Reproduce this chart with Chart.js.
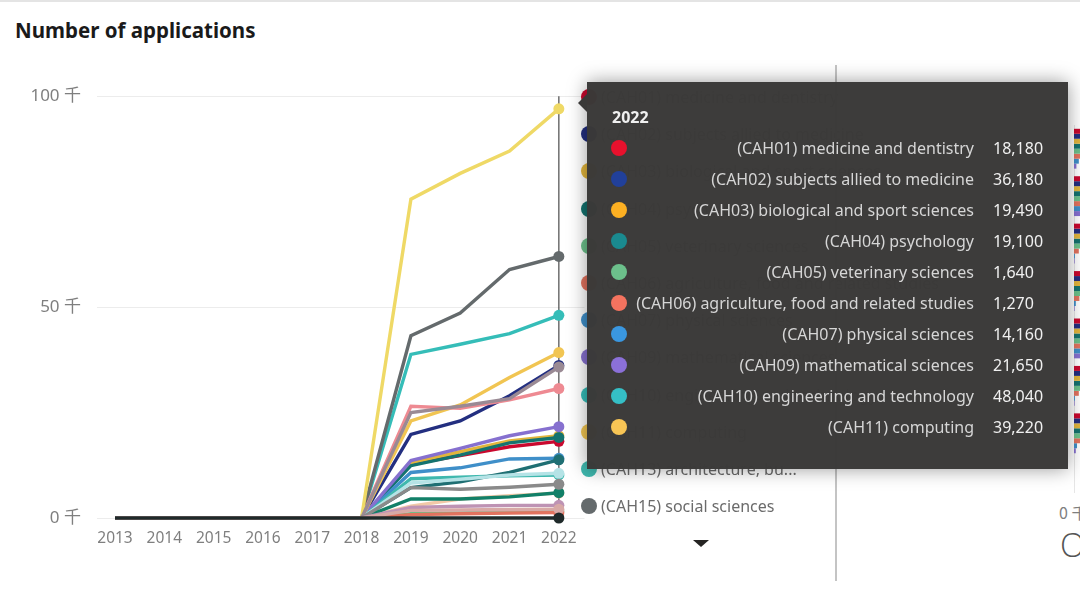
<!DOCTYPE html>
<html>
<head>
<meta charset="utf-8">
<title>Number of applications</title>
<script src="https://cdn.jsdelivr.net/npm/chart.js@4"></script>
<style>
    html, body { margin: 0; padding: 0; background: #fff; overflow: hidden; }
    body { width: 1080px; height: 593px; position: relative; font-family: "Noto Sans", sans-serif; }
    #topRule { position: absolute; left: 0; top: 0; width: 1080px; height: 2px; background: #e4e4e4; }
    #title { position: absolute; left: 15px; top: 16px; font-size: 20.5px; font-weight: 700; color: #1a1a1a; white-space: nowrap; }
    #lineWrap { position: absolute; left: 0; top: 70px; width: 590px; height: 490px; }
    #legend { position: absolute; left: 581px; top: 85px; width: 225px; }
    .legendRow { height: 37.2px; line-height: 25px; white-space: nowrap; color: #6b6b6b; font-size: 16px; }
    .legendRow i { display: inline-block; width: 16px; height: 16px; border-radius: 50%; margin-right: 4px; vertical-align: -2px; }
    #legendArrow { position: absolute; left: 693px; top: 540px; width: 0; height: 0; border-left: 8px solid transparent; border-right: 8px solid transparent; border-top: 7px solid #252423; }
    #divider { position: absolute; left: 835px; top: 65px; width: 2px; height: 516px; background: #c4c4c4; }
    #barWrap { position: absolute; left: 1074px; top: 125px; width: 6px; height: 368px; box-shadow: inset 1px 0 0 #e6e6e6; }
    #barInner { position: relative; width: 6px; height: 332px; }
    #rightTick { position: absolute; left: 1059px; top: 500px; font-size: 16px; color: #7f7f7f; white-space: nowrap; font-family: "Noto Sans CJK SC", "Noto Sans", sans-serif; }
    #rightGlyph { position: absolute; left: 1060px; top: 524px; font-size: 33px; line-height: 42px; font-weight: 300; color: #555; font-family: "Open Sans", sans-serif; }
    #tip { position: absolute; left: 587px; top: 82px; width: 481px; height: 387px; background: rgba(58, 57, 56, 0.985);
           box-shadow: 0 0 18px rgba(0, 0, 0, 0.4); color: #d6d6d6; font-size: 16px; }
    #tip::before { content: ""; position: absolute; left: -9px; top: 12px; border-top: 9px solid transparent; border-bottom: 9px solid transparent; border-right: 9px solid #3a3938; }
    #tipTitle { position: absolute; left: 25px; top: 24px; font-weight: 700; color: #f0f0f0; }
    .tipRow { position: absolute; left: 0; width: 481px; height: 24px; line-height: 24px; }
    .tipRow i { position: absolute; left: 24px; top: 4px; width: 16px; height: 16px; border-radius: 50%; }
    .tipRow span { position: absolute; right: 94px; white-space: nowrap; }
    .tipRow b { position: absolute; left: 406px; font-weight: 400; color: #f0f0f0; }
</style>
</head>
<body>
<div id="topRule"></div>
<div id="title">Number of applications</div>
<div id="lineWrap"><canvas id="lineChart"></canvas></div>
<div id="legend"></div>
<div id="legendArrow"></div>
<div id="divider"></div>
<div id="barWrap"><div id="barInner"><canvas id="barChart"></canvas></div></div>
<div id="rightTick">0 千</div>
<div id="rightGlyph">O</div>
<div id="tip"></div>

<script>
"use strict";

/* global Chart */

// Data
const years = [2013, 2014, 2015, 2016, 2017, 2018, 2019, 2020, 2021, 2022];
const yTicks = [0, 50000, 100000];

const cah01 = [0, 0, 0, 0, 0, 0, 12800, 14800, 16900, 18180];
const cah02 = [0, 0, 0, 0, 0, 0, 19800, 23000, 29000, 36180];
const cah03 = [0, 0, 0, 0, 0, 0, 13100, 15700, 18300, 19490];
const cah04 = [0, 0, 0, 0, 0, 0, 12400, 14900, 17800, 19100];
const cah05 = [0, 0, 0, 0, 0, 0, 1000, 1200, 1500, 1640];
const cah06 = [0, 0, 0, 0, 0, 0, 800, 1000, 1200, 1270];
const cah07 = [0, 0, 0, 0, 0, 0, 10800, 11900, 14000, 14160];
const cah09 = [0, 0, 0, 0, 0, 0, 13600, 16500, 19500, 21650];
const cah10 = [0, 0, 0, 0, 0, 0, 38800, 41200, 43700, 48040];
const cah11 = [0, 0, 0, 0, 0, 0, 23000, 26800, 33300, 39220];
const cah13 = [0, 0, 0, 0, 0, 0, 9300, 9700, 10000, 10200];
const cah15 = [0, 0, 0, 0, 0, 0, 43200, 48600, 58900, 62000];
const cah16 = [0, 0, 0, 0, 0, 0, 26500, 26000, 28000, 30700];
const cah17 = [0, 0, 0, 0, 0, 0, 75600, 81700, 87000, 97000];
const cah19 = [0, 0, 0, 0, 0, 0, 7200, 8600, 10800, 13800];
const cah20 = [0, 0, 0, 0, 0, 0, 8300, 9200, 10200, 10600];
const cah22 = [0, 0, 0, 0, 0, 0, 25000, 26500, 28300, 35800];
const cah23 = [0, 0, 0, 0, 0, 0, 2800, 4500, 5300, 5900];
const cah24 = [0, 0, 0, 0, 0, 0, 4500, 4500, 5000, 6000];
const cah25 = [0, 0, 0, 0, 0, 0, 7200, 6800, 7300, 8000];
const cah26 = [0, 0, 0, 0, 0, 0, 2500, 2800, 3000, 3000];
const cah28 = [0, 0, 0, 0, 0, 0, 1800, 1900, 2000, 2100];
const cah99 = [0, 0, 0, 0, 0, 0, 0, 0, 0, 0];

const seriesValues = [cah01, cah02, cah03, cah04, cah05, cah06, cah07, cah09, cah10, cah11, cah13, cah15,
    cah16, cah17, cah19, cah20, cah22, cah23, cah24, cah25, cah26, cah28, cah99];
const seriesNames = [
    "(CAH01) medicine and dentistry",
    "(CAH02) subjects allied to medicine",
    "(CAH03) biological and sport sciences",
    "(CAH04) psychology",
    "(CAH05) veterinary sciences",
    "(CAH06) agriculture, food and related studies",
    "(CAH07) physical sciences",
    "(CAH09) mathematical sciences",
    "(CAH10) engineering and technology",
    "(CAH11) computing",
    "(CAH13) architecture, bu...",
    "(CAH15) social sciences",
    "CAH16", "CAH17", "CAH19", "CAH20", "CAH22", "CAH23", "CAH24", "CAH25", "CAH26", "CAH28", "CAH99"
];
const seriesColours = ["#c9082e", "#232f80", "#e2b53c", "#14736f", "#6cc08b", "#e2735f", "#3f8fc9", "#8670cf",
    "#35bdb8", "#f1c552", "#3fb8ae", "#646a6c", "#ee8a92", "#efd966", "#1f6f73", "#b5e3e6", "#9a8a94",
    "#f2c9a8", "#128068", "#8a8a8a", "#be93b4", "#d8a9a6", "#1f2a2a"];
const tipColours = ["#e8112d", "#21409a", "#fdb022", "#1a8a8f", "#6cc08b", "#f4735f", "#3a97e0", "#8b70d8", "#35bfc6", "#f8c555"];

const LEGEND_COUNT = 12;
const TIP_COUNT = 10;

// Clipped bars at the right edge of the picture
const barRows = ["a", "b", "c", "d", "e", "f", "g"];
const barRed = [10, 10, 10, 10, 10, 10, 10];
const barNavy = [10, 10, 10, 10, 10, 10, 10];
const barOrange = [10, 10, 10, 10, 10, 10, 10];
const barTeal = [10, 10, 10, 10, 10, 10, 10];
const barGreen = [10, 10, 10, 10, 10, 10, 10];
const barSalmon = [10, 10, 8, 9, 10, 8, 10];
const barBlue = [8, 10, 1.5, 3, 10, 1.5, 5];
const barPurple = [4, 10, 1, 1, 10, 1, 3];

// Vertical hover line through the 2022 points
const hoverLine = {
    id: "hoverLine",
    beforeDatasetsDraw(chart) {
        const { ctx, scales: { x, y } } = chart;
        const px = x.getPixelForValue(years[years.length - 1]);
        ctx.save();
        ctx.strokeStyle = "#4a4a4a";
        ctx.lineWidth = 1.2;
        ctx.beginPath();
        ctx.moveTo(px, y.getPixelForValue(100000));
        ctx.lineTo(px, y.getPixelForValue(0));
        ctx.stroke();
        ctx.restore();
    }
};

function renderTip(context) {
    const tip = context.tooltip;
    if (!tip.dataPoints) return;
    const box = document.getElementById("tip");
    let html = `<div id="tipTitle">${tip.title[0]}</div>`;
    tip.dataPoints.forEach((p, i) => {
        const top = 54 + i * 31;
        html += `<div class="tipRow" style="top:${top}px"><i style="background:${tipColours[p.datasetIndex]}"></i>` +
            `<span>${p.dataset.label}</span><b>${p.raw.y.toLocaleString("en-US")}</b></div>`;
    });
    box.innerHTML = html;
}

// Legend list, most of it sits under the tooltip
const legendEl = document.getElementById("legend");
seriesNames.slice(0, LEGEND_COUNT).forEach((name, i) => {
    const row = document.createElement("div");
    row.className = "legendRow";
    row.innerHTML = `<i style="background:${seriesColours[i]}"></i>${name}`;
    legendEl.appendChild(row);
});

const lineChart = new Chart(document.getElementById("lineChart"), {
    type: "line",
    data: {
        datasets: seriesValues.map((values, i) => ({
            label: seriesNames[i],
            data: values.map((v, j) => ({ x: years[j], y: v })),
            borderColor: seriesColours[i],
            backgroundColor: seriesColours[i],
            borderWidth: 3.4,
            tension: 0,
            clip: false,
            order: seriesValues.length - i, // later series sit on top
            pointRadius: values.map((v, j) => (j === years.length - 1 ? 5.5 : 0)),
            pointHoverRadius: 5.5,
            pointBorderWidth: 0
        }))
    },
    options: {
        responsive: true,
        maintainAspectRatio: false,
        animation: false,
        events: [],
        layout: { padding: { top: 19, right: 3 } },
        plugins: {
            legend: { display: false },
            title: { display: false },
            tooltip: {
                enabled: false,
                mode: "index",
                external: renderTip,
                filter: item => item.datasetIndex < TIP_COUNT,
                itemSort: (a, b) => a.datasetIndex - b.datasetIndex,
                callbacks: { title: items => String(items[0].raw.x) }
            }
        },
        scales: {
            x: {
                type: "linear",
                min: 2012.635,
                max: 2022.52,
                grid: { display: false },
                border: { display: false },
                afterBuildTicks(scale) { scale.ticks = years.map(value => ({ value })); },
                ticks: {
                    autoSkip: false,
                    maxRotation: 0,
                    padding: 3,
                    color: "#7f7f7f",
                    font: { family: "Noto Sans", size: 15.5 },
                    callback: v => String(v)
                },
                afterFit(scale) { scale.height = 42; }
            },
            y: {
                min: 0,
                max: 100000,
                grid: { color: "#ececec", lineWidth: 1, drawTicks: false },
                border: { display: false },
                afterBuildTicks(scale) { scale.ticks = yTicks.map(value => ({ value })); },
                ticks: {
                    padding: 16,
                    color: "#7f7f7f",
                    font: { family: "'Noto Sans', 'Noto Sans CJK SC'", size: 17 },
                    callback: v => `${v / 1000} 千`
                },
                afterFit(scale) { scale.width = 97; }
            }
        }
    },
    plugins: [hoverLine]
});

// Open the tooltip on the last year
const lastIndex = years.length - 1;
lineChart.tooltip.setActiveElements(
    seriesValues.map((v, datasetIndex) => ({ datasetIndex, index: lastIndex })),
    { x: 559, y: 100 }
);
lineChart.update();

const barSets = [barRed, barNavy, barOrange, barTeal, barGreen, barSalmon, barBlue, barPurple];
const barColours = ["#c9082e", "#232f80", "#e2b53c", "#14736f", "#6cc08b", "#e2735f", "#3f8fc9", "#8670cf"];
new Chart(document.getElementById("barChart"), {
    type: "bar",
    data: {
        labels: barRows,
        datasets: barSets.map((values, i) => ({
            data: values,
            backgroundColor: barColours[i],
            categoryPercentage: 0.84,
            barPercentage: 1
        }))
    },
    options: {
        indexAxis: "y",
        responsive: true,
        maintainAspectRatio: false,
        animation: false,
        events: [],
        plugins: { legend: { display: false }, tooltip: { enabled: false } },
        scales: {
            x: { display: false, min: 0, max: 10 },
            y: { display: false }
        }
    }
});
</script>
</body>
</html>
